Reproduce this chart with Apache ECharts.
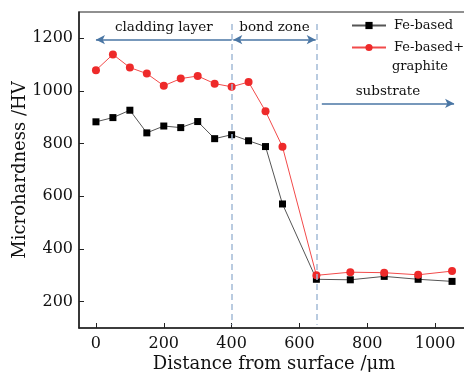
<!DOCTYPE html>
<html>
<head>
<meta charset="utf-8">
<script src="https://cdn.jsdelivr.net/npm/echarts@6/dist/echarts.min.js"></script>
<style>
  html, body { margin: 0; padding: 0; background: #fff; }
  #chart { width: 464px; height: 372px; }
</style>
</head>
<body>
<div id="chart"></div>
<script>
// distance from surface (um)
const distance = [0, 50, 100, 150, 200, 250, 300, 350, 400, 450, 500, 550, 650, 750, 850, 950, 1050];
const feBased = [883, 899, 927, 841, 867, 861, 884, 819, 834, 811, 789, 571, 285, 283, 296, 285, 277];
const feGraphite = [1079, 1139, 1089, 1066, 1020, 1047, 1057, 1028, 1016, 1034, 923, 788, 300, 312, 310, 302, 316];
const xTicks = [0, 200, 400, 600, 800, 1000];
const yTicks = [200, 400, 600, 800, 1000, 1200];

const FONT = "DejaVu Serif";
const ARROW = "#4a76a4";
const DASH = "#a3bbd6";

const chart = echarts.init(document.getElementById("chart"));

const zoneLine = (x) => [
  { coord: [x, 1254], symbol: "none" },
  { coord: [x, 112], symbol: "none" },
];

chart.setOption({
  animation: false,
  textStyle: { fontFamily: FONT, color: "#111" },
  grid: {
    left: 79, top: 12, width: 390, height: 316,
    outerBoundsMode: "none",
    show: true, borderColor: "#222", borderWidth: 1.2,
  },
  legend: {
    orient: "vertical",
    left: 346, top: 14,
    itemWidth: 34, itemHeight: 9, itemGap: 9,
    textStyle: { fontFamily: FONT, fontSize: 13, color: "#111", padding: [0, 0, 0, 3] },
    data: ["Fe-based", "Fe-based+"],
  },
  graphic: [
    { type: "text", left: 392, top: 60, style: { text: "graphite", font: "13px " + FONT, fill: "#111" } },
  ],
  xAxis: {
    type: "value",
    min: -50, max: 1100,
    name: "Distance from surface /μm",
    nameLocation: "middle", nameGap: 27, nameMoveOverlap: false,
    nameTextStyle: { fontFamily: FONT, fontSize: 18, color: "#111" },
    splitLine: { show: false },
    axisLine: { onZero: false, lineStyle: { color: "#222", width: 1.5 } },
    axisTick: { inside: true, length: 5, lineStyle: { color: "#222" }, customValues: xTicks },
    axisLabel: { fontFamily: FONT, fontSize: 16, color: "#111", margin: 8, customValues: xTicks, formatter: (v) => String(v) },
  },
  yAxis: {
    type: "value",
    min: 100, max: 1300,
    name: "Microhardness /HV",
    nameLocation: "middle", nameGap: 50, nameMoveOverlap: false,
    nameTextStyle: { fontFamily: FONT, fontSize: 18, color: "#111" },
    splitLine: { show: false },
    axisLine: { onZero: false, lineStyle: { color: "#222", width: 1.5 } },
    axisTick: { inside: true, length: 5, lineStyle: { color: "#222" }, customValues: yTicks },
    axisLabel: { fontFamily: FONT, fontSize: 16, color: "#111", margin: 6, customValues: yTicks, formatter: (v) => String(v) },
  },
  series: [
    {
      name: "Fe-based",
      type: "line",
      data: distance.map((d, i) => [d, feBased[i]]),
      symbol: "rect", symbolSize: 7,
      itemStyle: { color: "#000" },
      lineStyle: { color: "#555", width: 1 },
      z: 3,
      markLine: {
        silent: true,
        symbol: "none",
        lineStyle: { color: DASH, type: [6, 4], width: 1.5 },
        label: { show: false },
        data: [zoneLine(400), zoneLine(650)],
      },
    },
    {
      name: "Fe-based+",
      type: "line",
      data: distance.map((d, i) => [d, feGraphite[i]]),
      symbol: "circle", symbolSize: 8,
      itemStyle: { color: "#ee2a2a" },
      lineStyle: { color: "#f24a4a", width: 1 },
      z: 4,
      markLine: {
        silent: true,
        symbolSize: [7, 9],
        lineStyle: { color: ARROW, type: "solid", width: 1.5 },
        label: {
          show: true, position: "middle", distance: 5,
          fontFamily: FONT, fontSize: 13.5, color: "#111",
          formatter: (p) => p.name,
        },
        data: [
          [
            { name: "cladding layer", coord: [400, 1195], symbol: "none" },
            { coord: [0, 1195], symbol: "arrow" },
          ],
          [
            { name: "bond zone", coord: [405, 1195], symbol: "arrow" },
            { coord: [648, 1195], symbol: "arrow" },
          ],
          [
            { name: "substrate", coord: [666, 953], symbol: "none" },
            { coord: [1056, 953], symbol: "arrow" },
          ],
        ],
      },
    },
  ],
});
</script>
</body>
</html>
